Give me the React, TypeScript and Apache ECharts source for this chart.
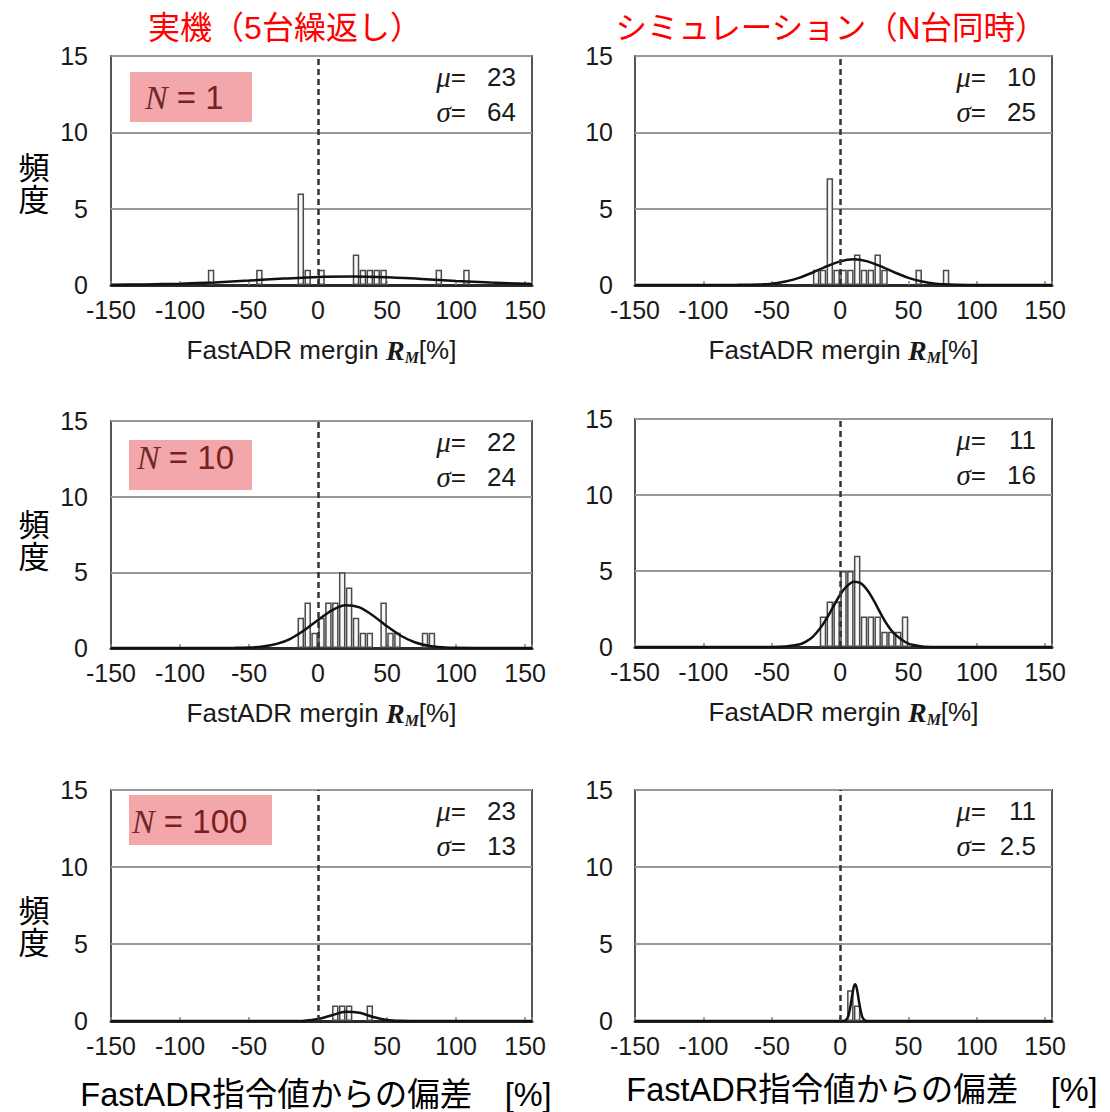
import React, { useEffect, useRef } from "react";
import * as echarts from "echarts";

// ---------- data ----------
const xTickValues = [-150, -100, -50, 0, 50, 100, 150];
const titleLeft = "実機（5台繰返し）";
const titleRight = "シミュレーション（N台同時）";
const yAxisTitle = "頻\n度";
const xAxisTitleTop = "FastADR mergin ";
const xAxisTitleBottom = "FastADR指令値からの偏差　[%]";
const nLabels = ["1", "10", "100"];
const muValues = ["23", "10", "22", "11", "23", "11"];
const sigmaValues = ["64", "25", "24", "16", "13", "2.5"];

// panel 1: measured, N = 1
const p1Bins = [-77.5, -42.5, -12.5, -7.5, 2.5, 27.5, 32.5, 37.5, 42.5, 47.5, 87.5, 107.5];
const p1Counts = [1, 1, 6, 1, 1, 2, 1, 1, 1, 1, 1, 1];
const p1CurveX = [-150, -125, -100, -75, -50, -25, 0, 25, 50, 75, 100, 125, 150, 155];
const p1CurveY = [0.02, 0.04, 0.09, 0.17, 0.29, 0.42, 0.53, 0.56, 0.51, 0.4, 0.27, 0.16, 0.08, 0.07];

// panel 2: simulation, N = 1
const p2Bins = [-17.5, -12.5, -7.5, -2.5, 2.5, 7.5, 12.5, 17.5, 22.5, 27.5, 32.5, 57.5, 77.5];
const p2Counts = [1, 1, 7, 1, 1, 1, 2, 1, 1, 2, 1, 1, 1];
const p2CurveX = [-150, -100, -75, -60, -50, -40, -30, -20, -10, 0, 10, 20, 30, 40, 50, 60, 70, 80, 95, 110, 155];
const p2CurveY = [0, 0, 0.01, 0.03, 0.09, 0.23, 0.47, 0.82, 1.22, 1.55, 1.68, 1.55, 1.22, 0.82, 0.47, 0.23, 0.09, 0.03, 0.005, 0, 0];

// panel 3: measured, N = 10
const p3Bins = [-12.5, -7.5, -2.5, 2.5, 7.5, 12.5, 17.5, 22.5, 27.5, 32.5, 37.5, 47.5, 52.5, 57.5, 77.5, 82.5];
const p3Counts = [2, 3, 1, 2, 3, 3, 5, 4, 2, 1, 1, 3, 1, 1, 1, 1];
const p3CurveX = [-150, -80, -60, -50, -40, -30, -20, -10, 0, 10, 20, 30, 40, 50, 60, 70, 80, 90, 100, 120, 155];
const p3CurveY = [0, 0, 0.01, 0.03, 0.1, 0.27, 0.61, 1.17, 1.85, 2.49, 2.82, 2.68, 2.13, 1.43, 0.81, 0.38, 0.15, 0.05, 0.01, 0, 0];

// panel 4: simulation, N = 10
const p4Bins = [-12.5, -7.5, -2.5, 2.5, 7.5, 12.5, 17.5, 22.5, 27.5, 32.5, 37.5, 42.5, 47.5];
const p4Counts = [2, 3, 3, 5, 5, 6, 2, 2, 2, 1, 1, 1, 2];
const p4CurveX = [-150, -70, -50, -40, -30, -25, -20, -15, -10, -5, 0, 5, 10, 15, 20, 25, 30, 35, 40, 50, 60, 70, 90, 155];
const p4CurveY = [0, 0, 0, 0.03, 0.16, 0.35, 0.67, 1.18, 1.85, 2.65, 3.44, 4.0, 4.3, 4.2, 3.73, 3.0, 2.15, 1.4, 0.85, 0.22, 0.04, 0.005, 0, 0];

// panel 5: measured, N = 100
const p5Bins = [12.5, 17.5, 22.5, 37.5];
const p5Counts = [1, 1, 1, 1];
const p5CurveX = [-150, -40, -20, -10, 0, 10, 20, 30, 40, 50, 60, 70, 90, 155];
const p5CurveY = [0, 0, 0, 0.02, 0.13, 0.37, 0.6, 0.53, 0.26, 0.07, 0.01, 0, 0, 0];

// panel 6: simulation, N = 100
const p6Bins = [7.5, 12.5];
const p6Counts = [2, 1];
const p6CurveX = [-150, -20, 0, 4, 6, 8, 9, 10, 11, 12, 13, 14, 16, 18, 22, 40, 155];
const p6CurveY = [0, 0, 0, 0.05, 0.32, 1.17, 1.74, 2.21, 2.39, 2.21, 1.74, 1.17, 0.32, 0.05, 0, 0, 0];

const panels = [
  { bins: p1Bins, counts: p1Counts, cx: p1CurveX, cy: p1CurveY },
  { bins: p2Bins, counts: p2Counts, cx: p2CurveX, cy: p2CurveY },
  { bins: p3Bins, counts: p3Counts, cx: p3CurveX, cy: p3CurveY },
  { bins: p4Bins, counts: p4Counts, cx: p4CurveX, cy: p4CurveY },
  { bins: p5Bins, counts: p5Counts, cx: p5CurveX, cy: p5CurveY },
  { bins: p6Bins, counts: p6Counts, cx: p6CurveX, cy: p6CurveY },
];

// ---------- layout ----------
const GRIDS = [
  { left: 111, top: 56, width: 421, height: 229 },
  { left: 635, top: 56, width: 417, height: 229 },
  { left: 111, top: 421, width: 421, height: 227 },
  { left: 635, top: 419, width: 417, height: 228 },
  { left: 111, top: 790, width: 421, height: 231 },
  { left: 635, top: 790, width: 417, height: 231 },
];

const SANS = '"Liberation Sans", Arial, "Noto Sans CJK JP", sans-serif';
const SERIF = '"Liberation Serif", "Times New Roman", serif';
const JP = '"Liberation Sans", Arial, "Noto Sans CJK JP", sans-serif';
const TXT = "#1a1a1a";

function buildOption() {
  const nameRich = {
    a: { fontFamily: SANS, fontSize: 26, color: TXT, lineHeight: 30 },
    r: { fontFamily: SERIF, fontStyle: "italic", fontWeight: "bold", fontSize: 28, color: TXT, lineHeight: 30 },
    s: { fontFamily: SERIF, fontStyle: "italic", fontWeight: "bold", fontSize: 16, color: TXT, lineHeight: 30, verticalAlign: "bottom" },
  };

  const grid = GRIDS.map((g) => ({
    left: g.left,
    top: g.top,
    width: g.width,
    height: g.height,
    show: true,
    borderColor: "#555",
    borderWidth: 2,
    backgroundColor: "transparent",
  }));

  const xAxis = GRIDS.map((g, i) => ({
    type: "value",
    gridIndex: i,
    min: -150,
    max: 155,
    interval: 50,
    axisLine: { show: true, onZero: false, lineStyle: { color: "#2a2a2a", width: 3 } },
    axisTick: { show: true, inside: true, length: 4, lineStyle: { color: "#888", width: 1.5 } },
    axisLabel: {
      show: true,
      margin: 12,
      fontSize: 25,
      fontFamily: SANS,
      color: TXT,
      formatter: (v: number) => (xTickValues.indexOf(v) >= 0 ? String(v) : ""),
    },
    splitLine: { show: false },
    name: i < 4 ? "{a|" + xAxisTitleTop + "}{r|R}{s|M}{a|[%]}" : "",
    nameLocation: "middle",
    nameGap: 50,
    nameTextStyle: { rich: nameRich },
  }));

  const yAxis = GRIDS.map((g, i) => ({
    type: "value",
    gridIndex: i,
    min: 0,
    max: 15,
    interval: 5,
    axisLine: { show: false },
    axisTick: { show: false },
    axisLabel: { show: true, margin: i % 2 === 0 ? 23 : 22, fontSize: 25, fontFamily: SANS, color: TXT },
    splitLine: { show: true, lineStyle: { color: "#999", width: 2 } },
  }));

  const series: any[] = [];
  panels.forEach((p, i) => {
    series.push({
      type: "bar",
      xAxisIndex: i,
      yAxisIndex: i,
      data: p.bins.map((b, k) => [b, p.counts[k]]),
      barWidth: 6.5,
      itemStyle: { color: "#f7f7f7", borderColor: "#4a4a4a", borderWidth: 1.5 },
      z: 2,
      markLine: {
        silent: true,
        symbol: "none",
        label: { show: false },
        lineStyle: { type: [6, 4], color: "#333", width: 2.5 },
        data: [{ xAxis: 0 }],
      },
    });
    series.push({
      type: "line",
      xAxisIndex: i,
      yAxisIndex: i,
      data: p.cx.map((x, k) => [x, p.cy[k]]),
      smooth: 0.25,
      showSymbol: false,
      symbol: "none",
      lineStyle: { color: "#111", width: 2.5 },
      z: 3,
    });
  });

  const graphic: any[] = [];
  // column titles
  graphic.push({
    type: "text",
    x: 285,
    y: 28,
    style: { text: titleLeft, fontSize: 32, fontFamily: JP, fill: "#ff0000", align: "center", verticalAlign: "middle" },
  });
  graphic.push({
    type: "text",
    x: 831,
    y: 28,
    style: { text: titleRight, fontSize: 31.5, fontFamily: JP, fill: "#ff0000", align: "center", verticalAlign: "middle" },
  });
  // y axis titles
  [184, 541, 927].forEach((cy) => {
    graphic.push({
      type: "text",
      x: 34,
      y: cy,
      style: { text: yAxisTitle, fontSize: 31, lineHeight: 32, fontFamily: JP, fill: "#000", align: "center", verticalAlign: "middle" },
    });
  });
  // N boxes
  const nBoxes = [
    { x: 130, y: 72, w: 122, h: 50, tx: 145, ty: 97 },
    { x: 129, y: 440, w: 123, h: 50, tx: 137, ty: 457 },
    { x: 129, y: 795, w: 143, h: 50, tx: 132, ty: 821 },
  ];
  nBoxes.forEach((b, k) => {
    graphic.push({
      type: "rect",
      shape: { x: b.x, y: b.y, width: b.w, height: b.h },
      style: { fill: "#f4a7aa" },
      z: 10,
    });
    graphic.push({
      type: "text",
      x: b.tx,
      y: b.ty,
      z: 11,
      style: {
        text: "{n|N}{t| = " + nLabels[k] + "}",
        align: "left",
        verticalAlign: "middle",
        rich: {
          n: { fontFamily: SERIF, fontStyle: "italic", fontSize: 34, fill: "#6e2a2a" },
          t: { fontFamily: SANS, fontSize: 33, fill: "#7a1f1f" },
        },
      },
    });
  });
  // mu / sigma
  GRIDS.forEach((g, i) => {
    const right = g.left + g.width;
    const rows = [
      { sym: "μ", val: muValues[i], y: g.top + 21 },
      { sym: "σ", val: sigmaValues[i], y: g.top + 56 },
    ];
    rows.forEach((r) => {
      graphic.push({
        type: "text",
        x: right - 66,
        y: r.y,
        z: 11,
        style: {
          text: "{g|" + r.sym + "}{e|=}",
          align: "right",
          verticalAlign: "middle",
          rich: {
            g: { fontFamily: SERIF, fontStyle: "italic", fontSize: 29, fill: TXT },
            e: { fontFamily: SANS, fontSize: 26, fill: TXT },
          },
        },
      });
      graphic.push({
        type: "text",
        x: right - 16,
        y: r.y,
        z: 11,
        style: { text: r.val, fontFamily: SANS, fontSize: 26, fill: TXT, align: "right", verticalAlign: "middle" },
      });
    });
  });
  // bottom x axis titles
  graphic.push({
    type: "text",
    x: 316,
    y: 1095,
    style: { text: xAxisTitleBottom, fontSize: 32.5, fontFamily: JP, fill: "#000", align: "center", verticalAlign: "middle" },
  });
  graphic.push({
    type: "text",
    x: 862,
    y: 1090,
    style: { text: xAxisTitleBottom, fontSize: 32.5, fontFamily: JP, fill: "#000", align: "center", verticalAlign: "middle" },
  });

  return {
    animation: false,
    backgroundColor: "#fff",
    grid,
    xAxis,
    yAxis,
    series,
    graphic,
  };
}

export default function App() {
  const ref = useRef<HTMLDivElement | null>(null);
  useEffect(() => {
    if (!ref.current) return;
    const chart = echarts.init(ref.current, null, { renderer: "svg" });
    chart.setOption(buildOption() as any);
    return () => chart.dispose();
  }, []);
  return (
    <div
      ref={ref}
      style={{ position: "absolute", left: 0, top: 0, width: 1110, height: 1112, background: "#fff" }}
    />
  );
}
